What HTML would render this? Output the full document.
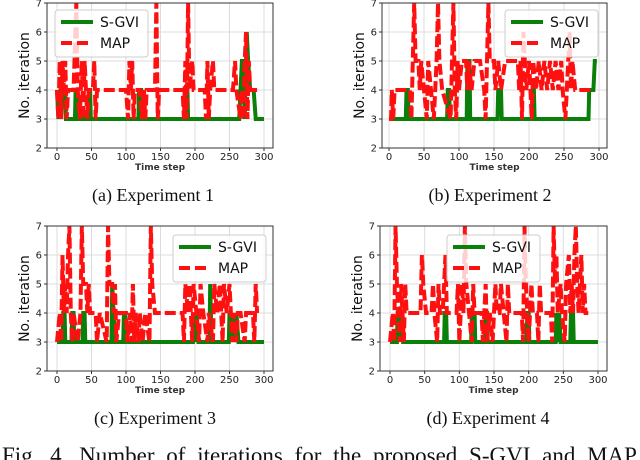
<!DOCTYPE html>
<html><head><meta charset="utf-8"><style>
body{margin:0;background:#fff;width:640px;height:460px;overflow:hidden}
svg{display:block}
</style></head><body>
<svg id="fig" width="640" height="460" xmlns="http://www.w3.org/2000/svg" font-family="'DejaVu Sans', sans-serif"></svg>
<script>
const xTicks=[0,50,100,150,200,250,300];
const yTicks=[2,3,4,5,6,7];
const captions=["(a) Experiment 1","(b) Experiment 2","(c) Experiment 3","(d) Experiment 4"];
const sgvi1=[[0,4],[2,3],[4,4],[6,3],[8,4],[10,4],[12,4],[13,3],[26,3],[27,4],[29,4],[30,3],[45,3],[46,4],[48,4],[49,3],[118,3],[119,4],[122,4],[123,3],[186,3],[187,4],[189,4],[190,3],[264,3],[266,4],[268,5],[270,5],[272,3],[274,5],[275,6],[277,5],[280,4],[284,4],[285,4],[288,3],[300,3]];
const map1=[[0,4],[2,3],[4,5],[6,3],[8,5],[10,4],[12,5],[14,3],[16,4],[24,4],[28,7],[30,4],[33,3],[36,5],[38,3],[40,5],[42,4],[44,3],[46,4],[52,4],[54,5],[56,3],[58,4],[100,4],[103,3],[105,5],[107,4],[109,5],[111,3],[113,4],[120,4],[123,3],[126,4],[128,3],[130,4],[142,4],[144,7],[146,3],[148,4],[182,4],[184,3],[186,5],[188,3],[190,7],[192,4],[196,5],[198,4],[214,4],[216,3],[218,5],[220,3],[222,4],[226,5],[228,4],[255,4],[258,5],[260,4],[266,3],[268,4],[270,3],[272,5],[274,6],[276,3],[278,5],[280,4],[290,4]];
const sgvi2=[[0,3],[24,3],[25,4],[27,4],[28,3],[83,3],[84,4],[86,4],[87,3],[111,3],[112,5],[115,5],[116,3],[155,3],[156,4],[160,4],[161,3],[204,3],[205,4],[207,4],[208,3],[285,3],[286,4],[292,4],[294,5],[297,5]];
const map2=[[0,3],[3,3],[4,4],[6,3],[8,4],[30,4],[32,3],[34,5],[36,7],[38,5],[42,5],[44,4],[46,5],[50,4],[54,3],[56,5],[60,4],[64,3],[66,4],[68,5],[70,7],[72,5],[76,4],[88,3],[90,5],[92,7],[94,4],[96,3],[98,5],[100,4],[104,5],[110,5],[112,4],[114,5],[118,4],[122,5],[130,5],[136,4],[138,3],[140,5],[142,7],[144,5],[150,5],[152,4],[156,5],[160,4],[166,5],[184,5],[186,4],[188,5],[190,3],[192,6],[196,4],[200,5],[204,3],[206,5],[210,4],[214,5],[218,4],[222,5],[226,4],[230,5],[234,4],[238,5],[242,4],[246,5],[248,4],[252,3],[256,5],[258,6],[260,4],[262,5],[266,4],[290,4]];
const sgvi3=[[0,3],[8,3],[9,4],[11,4],[12,3],[21,3],[22,4],[24,4],[25,3],[37,3],[38,4],[40,4],[41,3],[79,3],[80,5],[82,4],[84,3],[96,3],[97,4],[99,4],[100,3],[197,3],[198,4],[200,3],[202,4],[205,3],[221,3],[222,5],[224,3],[249,3],[250,4],[253,3],[255,4],[258,3],[260,4],[263,3],[300,3]];
const map3=[[0,3],[4,4],[6,3],[8,6],[10,4],[12,5],[14,4],[16,6],[18,7],[20,4],[22,3],[24,4],[30,3],[34,4],[36,7],[38,5],[42,5],[44,4],[46,5],[48,4],[56,4],[58,3],[62,4],[72,3],[74,7],[76,5],[80,5],[82,4],[84,5],[86,3],[90,4],[100,4],[102,3],[106,4],[108,3],[110,5],[112,3],[114,4],[118,3],[120,4],[124,3],[128,4],[134,3],[136,7],[138,5],[142,4],[182,4],[184,3],[186,5],[190,4],[192,5],[196,3],[198,5],[202,4],[206,3],[208,5],[212,4],[218,3],[220,4],[226,3],[228,5],[232,4],[236,5],[240,3],[242,5],[246,4],[250,5],[254,3],[256,4],[260,3],[262,4],[266,4],[272,3],[274,4],[284,4],[286,3],[288,5],[290,4]];
const sgvi4=[[0,3],[10,3],[11,4],[14,4],[15,3],[16,4],[18,4],[19,3],[78,3],[79,4],[81,4],[82,3],[117,3],[118,4],[122,4],[123,3],[137,3],[138,4],[140,4],[141,3],[197,3],[198,4],[200,4],[201,3],[239,3],[240,4],[242,3],[244,4],[246,3],[260,3],[261,4],[264,4],[265,3],[300,3]];
const map4=[[0,3],[4,4],[6,3],[8,7],[10,5],[12,4],[14,3],[16,5],[18,4],[20,3],[22,5],[24,4],[44,4],[46,6],[48,5],[52,4],[60,4],[62,5],[64,4],[68,3],[70,5],[72,4],[76,4],[78,5],[80,6],[82,4],[96,4],[98,5],[100,3],[104,5],[106,4],[108,7],[110,5],[114,4],[118,3],[120,5],[122,4],[132,4],[134,3],[138,5],[140,3],[144,4],[148,3],[152,5],[154,4],[158,4],[160,5],[164,4],[168,3],[170,5],[172,4],[190,4],[192,3],[194,7],[196,5],[198,4],[200,3],[204,5],[206,4],[212,4],[214,3],[216,5],[218,4],[232,4],[234,3],[236,7],[238,5],[240,6],[242,4],[246,5],[248,4],[252,3],[254,5],[258,6],[260,4],[262,5],[264,4],[266,6],[268,7],[270,5],[272,4],[274,5],[276,6],[278,4],[280,5],[282,4],[286,4]];

const NS="http://www.w3.org/2000/svg";
const svg=document.getElementById('fig');
function mk(tag,attrs,parent,text){const e=document.createElementNS(NS,tag);for(const k in attrs)e.setAttribute(k,attrs[k]);if(text!==undefined)e.textContent=text;(parent||svg).appendChild(e);return e;}
const panels=[
 {L:47,R:273,T:3,B:148,x0:57,x300:264,sg:sgvi1,mp:map1,leg:[55,10],cap:[153,201]},
 {L:382,R:607,T:3,B:148,x0:389,x300:599,sg:sgvi2,mp:map2,leg:[505,10],cap:[490,201]},
 {L:47,R:273,T:226,B:371,x0:57,x300:264,sg:sgvi3,mp:map3,leg:[173,235],cap:[155,424]},
 {L:380,R:607,T:226,B:371,x0:390,x300:598,sg:sgvi4,mp:map4,leg:[447,235],cap:[488,424]}
];
panels.forEach((p,i)=>{
 const g=mk('g',{});
 
 
 const xs=t=>p.x0+(p.x300-p.x0)*t/300;
 const ys=v=>p.B-(p.B-p.T)*(v-2)/5;
 yTicks.forEach(v=>{
  const l=mk('line',{x1:p.L,x2:p.R,y1:ys(v),y2:ys(v),stroke:'#dcdcdc','stroke-width':1},g);
  
  
  mk('line',{x1:p.L-3,x2:p.L,y1:ys(v),y2:ys(v),stroke:'#333'},g);
  const t=mk('text',{x:p.L-5,y:ys(v)+3.5,'text-anchor':'end','font-size':10,fill:'#222'},g,String(v));
  
  
 });
 xTicks.forEach(v=>{
  const l=mk('line',{x1:xs(v),x2:xs(v),y1:p.T,y2:p.B,stroke:'#dcdcdc','stroke-width':1},g);
  
  
  mk('line',{x1:xs(v),x2:xs(v),y1:p.B,y2:p.B+3,stroke:'#333'},g);
  const t=mk('text',{x:xs(v),y:p.B+12,'text-anchor':'middle','font-size':10,fill:'#222'},g,String(v));
  
  
 });
 const sgp=mk('polyline',{points:p.sg.map(d=>xs(d[0])+','+ys(d[1])).join(' '),fill:'none',stroke:'#0a800a','stroke-width':4,'stroke-linejoin':'miter'},g);
 
 
 const mpp=mk('polyline',{points:p.mp.map(d=>xs(d[0])+','+ys(d[1])).join(' '),fill:'none',stroke:'#ff1010','stroke-width':4,'stroke-dasharray':'11 4'},g);
 
 
 const fr=mk('rect',{x:p.L,y:p.T,width:p.R-p.L,height:p.B-p.T,fill:'none',stroke:'#333','stroke-width':1},g);
 
 
 const xl=mk('text',{x:(p.L+p.R)/2,y:p.B+22,'text-anchor':'middle','font-size':9,'font-weight':'bold',fill:'#333'},g,'Time step');
 
 
 const cy=(p.T+p.B)/2, cx=p.L-18;
 const yl=mk('text',{x:cx,y:cy,'text-anchor':'middle','font-size':14,fill:'#111',transform:'rotate(-90 '+cx+' '+cy+')'},g,'No. iteration');
 
 
 const lg=mk('g',{},g);
 
 
 const [lx,ly]=p.leg;
 mk('rect',{x:lx,y:ly,width:93,height:47,rx:3,fill:'rgba(255,255,255,0.8)',stroke:'#ccc'},lg);
 mk('line',{x1:lx+6,x2:lx+38,y1:ly+12,y2:ly+12,stroke:'#0a800a','stroke-width':4},lg);
 mk('line',{x1:lx+6,x2:lx+38,y1:ly+33,y2:ly+33,stroke:'#ff1010','stroke-width':4,'stroke-dasharray':'11 5'},lg);
 const e1=mk('text',{x:lx+45,y:ly+17,'font-size':14,fill:'#111'},lg,'S-GVI');
 
 
 const e2=mk('text',{x:lx+45,y:ly+38,'font-size':14,fill:'#111'},lg,'MAP');
 
 
 const c=mk('text',{x:p.cap[0],y:p.cap[1],'text-anchor':'middle','font-size':18,'font-family':"'Liberation Serif', serif",fill:'#111'},svg,captions[i]);
 
 
});
const fc=mk('text',{x:2,y:463,'font-size':23,'word-spacing':'6','font-family':"'Liberation Serif', serif",fill:'#111','xml:space':'preserve'},svg,'Fig. 4.    Number of iterations for the proposed S-GVI and MAP');


</script>
</body></html>
